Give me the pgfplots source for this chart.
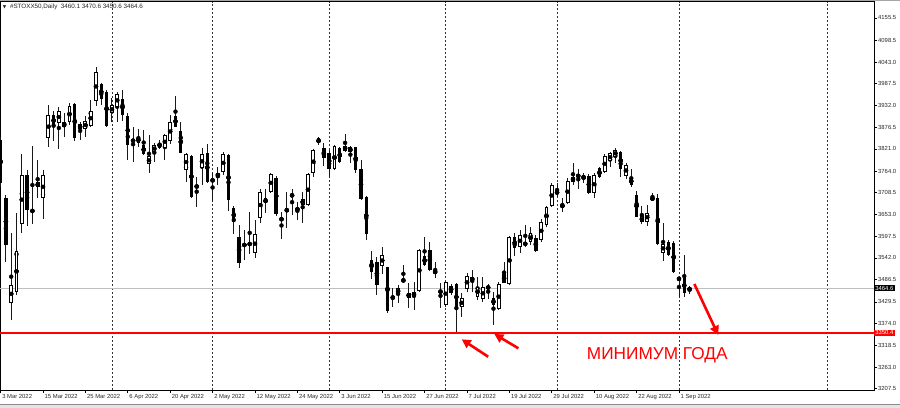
\documentclass[border=0pt]{standalone}
\usepackage{fontspec}
\setmainfont{Liberation Sans}
\newfontfamily\symfont{DejaVu Sans}
\usepackage{pgfplots}
\usepackage{pgfplotstable}
\pgfplotsset{compat=1.18}
\usetikzlibrary{arrows.meta}

% daily candles, bar index from 3 Mar 2022: open high low close
\pgfplotstableread{
i o h l c
0 3843.5 3851.0 3723.0 3732.8
1 3694.4 3702.8 3532.3 3575.0
2 3427.4 3604.9 3383.2 3472.7
3 3455.6 3656.0 3447.0 3559.7
4 3628.0 3807.7 3604.9 3754.0
5 3754.0 3767.0 3624.4 3664.5
6 3664.5 3828.7 3628.0 3660.0
7 3722.6 3792.0 3694.4 3736.0
8 3694.4 3767.0 3640.7 3753.2
9 3847.8 3933.0 3826.4 3907.5
10 3907.5 3918.5 3841.7 3879.3
11 3886.2 3928.7 3819.8 3918.5
12 3889.6 3911.8 3850.4 3877.5
13 3888.8 3938.9 3881.9 3930.5
14 3934.8 3937.4 3841.7 3847.8
15 3870.9 3890.3 3843.5 3883.7
16 3870.9 3904.9 3850.4 3892.9
17 3880.0 3946.0 3877.5 3918.5
18 3944.0 4029.4 3930.5 4016.7
19 3986.0 3990.0 3933.0 3947.6
20 3967.0 3971.4 3877.5 3879.3
21 3911.8 3950.4 3890.3 3932.3
22 3928.7 3967.0 3890.3 3961.2
23 3947.6 3971.4 3892.0 3907.5
24 3904.9 3911.8 3792.0 3830.8
25 3842.5 3877.5 3787.7 3841.0
26 3851.9 3871.7 3824.9 3835.0
27 3830.8 3869.0 3805.0 3807.0
28 3781.4 3856.3 3760.0 3801.8
29 3812.8 3835.0 3787.7 3830.0
30 3836.6 3843.5 3819.8 3823.8
31 3822.3 3858.8 3792.0 3855.5
32 3841.7 3907.5 3833.4 3888.8
33 3904.9 3956.3 3876.0 3877.5
34 3866.5 3888.8 3809.4 3811.0
35 3766.8 3809.4 3736.9 3807.7
36 3803.4 3805.0 3694.4 3697.0
37 3721.6 3749.7 3673.0 3727.7
38 3771.0 3822.3 3728.4 3807.0
39 3809.4 3833.4 3734.3 3736.9
40 3743.8 3758.4 3685.7 3736.9
41 3749.7 3773.7 3728.4 3758.4
42 3762.4 3813.5 3754.0 3807.7
43 3805.0 3807.7 3662.7 3690.0
44 3670.4 3674.7 3603.1 3633.0
45 3596.2 3626.2 3515.0 3528.2
46 3579.3 3613.3 3536.6 3570.7
47 3582.7 3660.2 3552.0 3572.4
48 3553.8 3639.0 3541.0 3603.1
49 3643.3 3717.5 3630.5 3711.3
50 3681.6 3717.5 3657.6 3694.4
51 3711.3 3758.4 3707.2 3756.6
52 3745.6 3751.5 3649.2 3654.3
53 3637.1 3660.2 3589.6 3644.8
54 3664.5 3711.3 3617.7 3663.0
55 3705.4 3717.5 3651.7 3698.5
56 3662.7 3685.7 3639.0 3670.4
57 3677.3 3711.3 3632.0 3692.6
58 3677.3 3760.0 3674.7 3755.8
59 3758.4 3819.8 3748.0 3818.0
60 3835.1 3852.0 3830.8 3847.8
61 3823.8 3835.1 3777.0 3796.7
62 3811.0 3818.0 3748.0 3768.5
63 3768.5 3830.8 3766.8 3828.7
64 3822.3 3826.4 3783.5 3787.7
65 3816.2 3858.8 3813.5 3829.3
66 3812.0 3828.7 3783.5 3824.9
67 3824.9 3826.4 3758.4 3766.8
68 3768.5 3792.0 3690.0 3691.9
69 3697.0 3700.3 3587.8 3603.1
70 3536.6 3560.4 3488.6 3506.7
71 3530.7 3545.0 3447.1 3472.7
72 3521.3 3570.6 3500.8 3549.4
73 3518.0 3519.5 3400.3 3407.0
74 3444.6 3464.3 3415.7 3436.9
75 3449.7 3472.7 3427.4 3464.3
76 3486.9 3523.9 3478.6 3482.0
77 3440.2 3477.0 3413.0 3453.0
78 3442.8 3481.1 3408.8 3454.8
79 3458.2 3564.0 3455.6 3562.2
80 3546.9 3596.2 3521.3 3523.9
81 3562.2 3583.4 3509.3 3511.0
82 3502.6 3532.3 3489.8 3509.3
83 3451.5 3477.0 3413.0 3460.0
84 3421.5 3481.1 3417.2 3479.6
85 3470.2 3475.3 3447.1 3451.5
86 3475.3 3477.0 3350.4 3408.8
87 3415.7 3451.5 3391.6 3438.7
88 3462.5 3502.6 3455.6 3496.5
89 3483.7 3511.0 3455.6 3492.4
90 3442.8 3493.9 3434.3 3468.4
91 3436.1 3493.9 3430.0 3466.8
92 3464.3 3475.3 3436.1 3468.4
93 3438.7 3454.0 3370.4 3421.5
94 3410.6 3481.1 3408.8 3475.3
95 3500.8 3532.3 3477.0 3478.6
96 3475.3 3598.0 3472.7 3596.2
97 3594.7 3604.9 3546.9 3566.6
98 3570.7 3613.3 3555.3 3600.6
99 3579.3 3626.2 3570.7 3576.8
100 3581.9 3621.8 3575.0 3604.9
101 3592.1 3600.6 3557.9 3560.4
102 3587.8 3640.7 3583.4 3634.6
103 3626.2 3674.7 3621.8 3673.0
104 3674.7 3732.8 3673.0 3728.4
105 3710.5 3732.8 3698.5 3708.0
106 3676.5 3694.4 3660.2 3673.0
107 3683.2 3745.6 3679.8 3739.4
108 3736.9 3783.5 3728.4 3749.7
109 3755.8 3768.5 3717.5 3748.0
110 3749.0 3760.0 3732.8 3748.0
111 3751.5 3756.6 3704.6 3707.2
112 3707.2 3758.4 3694.4 3754.0
113 3771.0 3775.2 3745.6 3748.0
114 3762.4 3807.7 3758.4 3802.6
115 3790.2 3813.5 3773.7 3809.4
116 3800.8 3822.3 3783.5 3818.0
117 3813.5 3816.2 3749.7 3768.5
118 3751.5 3783.5 3743.0 3779.6
119 3748.0 3768.5 3722.6 3728.4
120 3702.9 3713.9 3645.8 3647.4
121 3633.0 3674.7 3628.7 3649.2
122 3634.6 3677.3 3623.6 3657.6
123 3690.0 3707.2 3688.3 3697.0
124 3694.4 3705.4 3575.0 3577.6
125 3555.3 3630.5 3534.8 3577.6
126 3583.4 3588.0 3546.9 3549.4
127 3580.9 3585.2 3504.2 3506.7
128 3485.5 3493.2 3442.0 3491.4
129 3489.8 3549.4 3441.2 3453.0
130 3460.1 3470.6 3450.6 3464.6
}\candles

\begin{document}
\begin{tikzpicture}
\useasboundingbox (0,-18bp) rectangle (900bp,390bp);
\begin{axis}[
    scale only axis,
    width=874bp, height=388.5bp,
    at={(0,0)}, anchor=south west,
    xmin=-0.113, xmax=164.8,
    ymin=3204.2, ymax=4197.7,
    axis line style={black, line width=0.8bp},
    clip mode=individual,
    xtick={0,8,...,128},
    xticklabels={3 Mar 2022,15 Mar 2022,25 Mar 2022,6 Apr 2022,20 Apr 2022,2 May 2022,12 May 2022,24 May 2022,3 Jun 2022,15 Jun 2022,27 Jun 2022,7 Jul 2022,19 Jul 2022,29 Jul 2022,10 Aug 2022,22 Aug 2022,1 Sep 2022},
    ytick={3207.5,3263.0,3318.5,3374.0,3429.5,3486.5,3542.0,3597.5,3653.0,3708.5,3764.0,3821.0,3876.5,3932.0,3987.5,4043.0,4098.5,4155.5},
    yticklabels={3207.5,3263.0,3318.5,3374.0,3429.5,3486.5,3542.0,3597.5,3653.0,3708.5,3764.0,3821.0,3876.5,3932.0,3987.5,4043.0,4098.5,4155.5},
    xtick pos=bottom, ytick pos=right, yticklabel pos=right,
    tick align=outside, major tick length=3bp,
    tick style={black, line width=0.6bp},
    /pgf/number format/assume math mode=true,
    ticklabel style={font=\fontsize{5.9}{7}\selectfont, text=black!85},
    xticklabel style={anchor=north west, inner sep=0pt, xshift=1.5bp, yshift=-1.5bp},
    yticklabel style={anchor=west, inner sep=0pt, xshift=1bp},
    extra x ticks={21,40,62,84,105,128,156},
    extra x tick labels={},
    extra x tick style={grid=major, major tick length=0pt},
    major grid style={black!80, line width=0.6bp, dash pattern=on 2bp off 2bp},
]
% bid line and wicks
\addplot[black!25, line width=0.6bp] coordinates {(-1,3464.6) (170,3464.6)};
\addplot[only marks, mark=none, error bars/.cd, y dir=both, y explicit, error mark=none,
    error bar style={black!90, line width=0.9bp}]
    table[x=i, y expr={(\thisrow{h}+\thisrow{l})/2}, y error expr={(\thisrow{h}-\thisrow{l})/2}] {\candles};
% bear bodies
\addplot[only marks, mark=none, error bars/.cd, y dir=both, y explicit, error mark=none,
    error bar style={black, line width=3.4bp}]
    table[x=i, y expr={(\thisrow{o}+\thisrow{c})/2},
      y error expr={(\thisrow{o}>=\thisrow{c}) ? (max((\thisrow{o}-\thisrow{c})/2,1.3)) : (0)}] {\candles};
% bull bodies: black outline, white inside
\addplot[only marks, mark=none, error bars/.cd, y dir=both, y explicit, error mark=none,
    error bar style={black, line width=3.8bp}]
    table[x=i, y expr={(\thisrow{o}+\thisrow{c})/2},
      y error expr={(\thisrow{c}>\thisrow{o}) ? (max((\thisrow{c}-\thisrow{o})/2,1.3)) : (0)}] {\candles};
\addplot[only marks, mark=none, error bars/.cd, y dir=both, y explicit, error mark=none,
    error bar style={white, line width=1.8bp}]
    table[x=i, y expr={(\thisrow{o}+\thisrow{c})/2},
      y error expr={(\thisrow{c}>\thisrow{o}) ? (max((\thisrow{c}-\thisrow{o})/2-2.5,0)) : (0)}] {\candles};
% year low
\addplot[red, line width=1.6bp] coordinates {(-1,3350.4) (170,3350.4)};

% annotations
\draw[red, line width=2.6bp, -{Triangle[width=9bp,length=9bp]}] (axis cs:92.0,3289.3) -- (axis cs:87.0,3333.8);
\draw[red, line width=2.6bp, -{Triangle[width=9bp,length=9bp]}] (axis cs:97.7,3310.8) -- (axis cs:93.15,3347.4);
\draw[red, line width=2.6bp, -{Triangle[width=9bp,length=9bp]}] (axis cs:130.9,3475.3) -- (axis cs:135.4,3345.0);
\node[anchor=base west, inner sep=0pt, text=red, font=\fontsize{17.3}{20}\selectfont] at (axis cs:110.6,3282.7) {МИНИМУМ ГОДА};

\node[anchor=west, inner sep=0pt, font=\symfont\fontsize{4.5}{5}\selectfont, text=black!85] at (axis cs:0.4,4183.6) {▼};
\node[anchor=west, inner sep=0pt, font=\fontsize{6.3}{7}\selectfont, text=black!85] at (axis cs:1.75,4183.6) {\#STOXX50,Daily\ \ 3460.1 3470.6 3450.6 3464.6};

\node[anchor=west, fill=black, text=white, inner xsep=1.2bp, inner ysep=1bp, font=\fontsize{5.9}{7}\selectfont] at (axis cs:164.8,3464.6) {3464.6};
\node[anchor=west, fill=red, text=white, inner xsep=1.2bp, inner ysep=1bp, font=\fontsize{5.9}{7}\selectfont] at (axis cs:164.8,3350.4) {3350.4};
\end{axis}
\draw[black!35, line width=1bp] (0,389.5bp) -- (900bp,389.5bp);
\fill[black!10] (0,-18bp) rectangle (900bp,-14bp);
\draw[black!45, line width=0.6bp] (0,-14bp) -- (900bp,-14bp);
\end{tikzpicture}
\end{document}
